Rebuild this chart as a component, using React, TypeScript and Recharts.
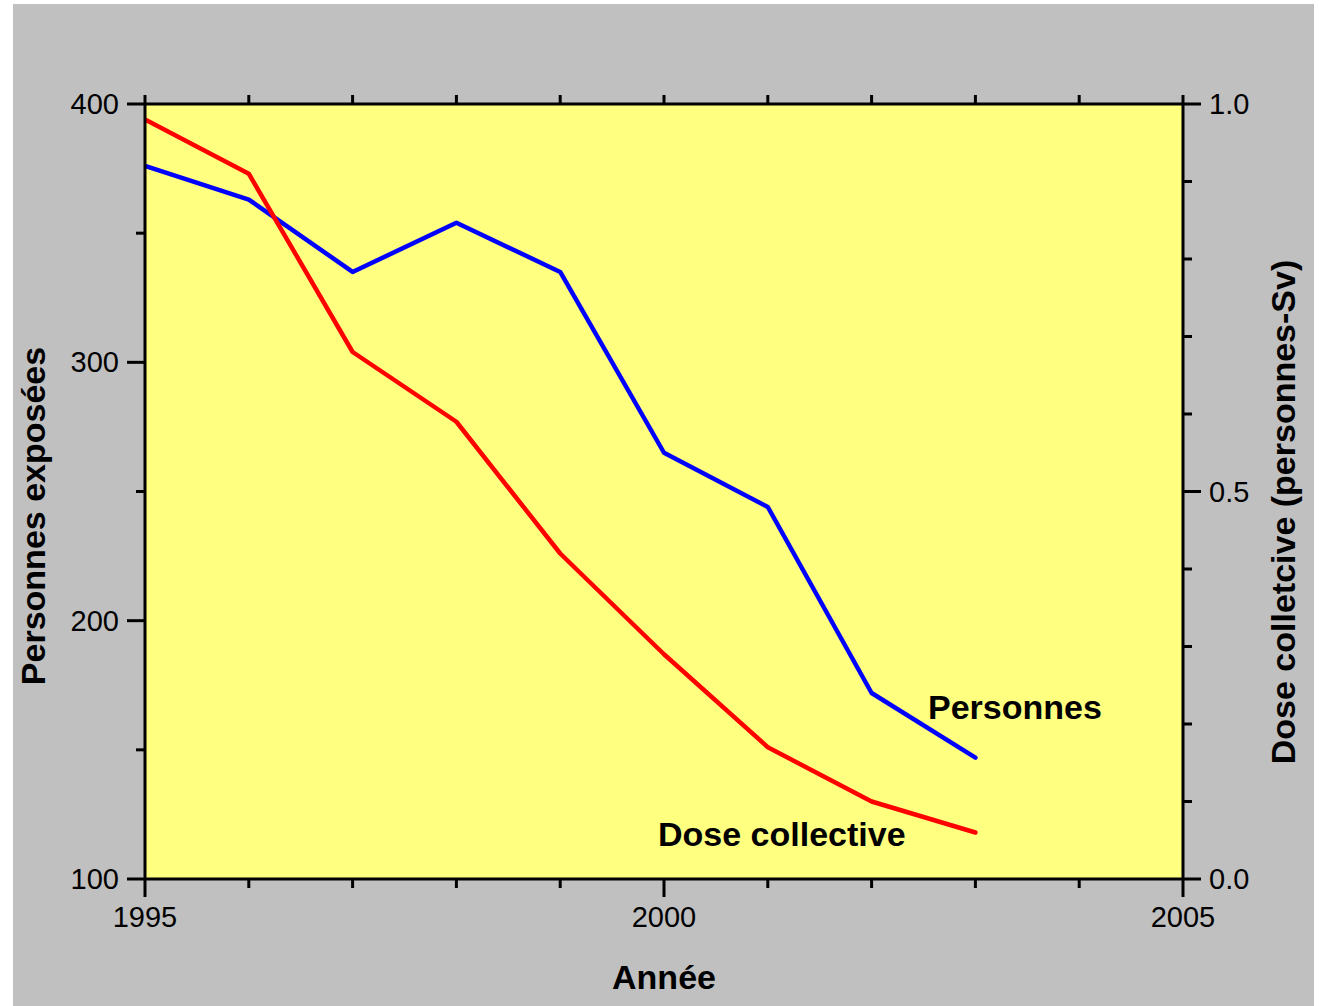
import React from 'react';
import { LineChart, Line, XAxis, YAxis, CartesianGrid } from 'recharts';

const years = [1995, 1996, 1997, 1998, 1999, 2000, 2001, 2002, 2003];
const personnes = [376, 363, 335, 354, 335, 265, 244, 172, 147];
const dose = [0.98, 0.91, 0.68, 0.59, 0.42, 0.29, 0.17, 0.1, 0.06];

const yearTicks = [1995, 1996, 1997, 1998, 1999, 2000, 2001, 2002, 2003, 2004, 2005];
const yearLabels = [1995, 2000, 2005];
const leftTicks = [100, 150, 200, 250, 300, 350, 400];
const leftLabels = [100, 200, 300, 400];
const rightTicks = [0, 0.1, 0.2, 0.3, 0.4, 0.5, 0.6, 0.7, 0.8, 0.9, 1.0];
const rightLabels = [0, 0.5, 1.0];

const data = years.map((year, i) => ({ year, personnes: personnes[i], dose: dose[i] }));

const FONT = '"Liberation Sans", Arial, sans-serif';
const tickText = { fontFamily: FONT, fontSize: 29, fill: '#000' };

const LeftTick = (props: any) => {
  const { x, y, payload } = props;
  const major = leftLabels.includes(payload.value);
  return (
    <g>
      <line x1={x} x2={x - (major ? 18 : 9)} y1={y} y2={y} stroke="#000" strokeWidth={3} />
      {major && (
        <text x={x - 26} y={y} textAnchor="end" dominantBaseline="central" {...tickText}>
          {payload.value}
        </text>
      )}
    </g>
  );
};

const RightTick = (props: any) => {
  const { x, y, payload } = props;
  const major = rightLabels.some((v) => Math.abs(v - payload.value) < 1e-6);
  return (
    <g>
      <line x1={x} x2={x + (major ? 18 : 9)} y1={y} y2={y} stroke="#000" strokeWidth={3} />
      {major && (
        <text x={x + 26} y={y} textAnchor="start" dominantBaseline="central" {...tickText}>
          {payload.value.toFixed(1)}
        </text>
      )}
    </g>
  );
};

const BottomTick = (props: any) => {
  const { x, y, payload } = props;
  const major = yearLabels.includes(payload.value);
  return (
    <g>
      <line x1={x} x2={x} y1={y} y2={y + (major ? 18 : 9)} stroke="#000" strokeWidth={3} />
      {major && (
        <text x={x} y={y + 38} textAnchor="middle" dominantBaseline="central" {...tickText}>
          {payload.value}
        </text>
      )}
    </g>
  );
};

const TopTick = (props: any) => {
  const { x, y } = props;
  return <line x1={x} x2={x} y1={y} y2={y - 9} stroke="#000" strokeWidth={3} />;
};

const title: React.CSSProperties = {
  position: 'absolute',
  fontFamily: FONT,
  fontWeight: 'bold',
  fontSize: 34,
  color: '#000',
  whiteSpace: 'nowrap',
  lineHeight: 1,
};

export default function App() {
  return (
    <div style={{ position: 'absolute', left: 13, top: 4, width: 1301, height: 1002, background: '#c0c0c0' }}>
      <LineChart width={1301} height={1002} data={data} margin={{ top: 99, right: 0, left: 0, bottom: 0 }}>
        <CartesianGrid fill="#ffff80" horizontal={false} vertical={false} stroke="none" />
        <XAxis
          xAxisId="bottom"
          dataKey="year"
          type="number"
          domain={[1995, 2005]}
          ticks={yearTicks}
          interval={0}
          height={127}
          tickSize={0}
          tickMargin={0}
          tickLine={false}
          tick={<BottomTick />}
          axisLine={{ stroke: '#000', strokeWidth: 3 }}
          allowDataOverflow
        />
        <XAxis
          xAxisId="top"
          orientation="top"
          dataKey="year"
          type="number"
          domain={[1995, 2005]}
          ticks={yearTicks}
          interval={0}
          height={1}
          tickSize={0}
          tickMargin={0}
          tickLine={false}
          tick={<TopTick />}
          axisLine={{ stroke: '#000', strokeWidth: 3 }}
          allowDataOverflow
        />
        <YAxis
          yAxisId="left"
          domain={[100, 400]}
          ticks={leftTicks}
          interval={0}
          width={132}
          tickSize={0}
          tickMargin={0}
          tickLine={false}
          tick={<LeftTick />}
          axisLine={{ stroke: '#000', strokeWidth: 3 }}
          allowDataOverflow
        />
        <YAxis
          yAxisId="right"
          orientation="right"
          domain={[0, 1]}
          ticks={rightTicks}
          interval={0}
          width={131}
          tickSize={0}
          tickMargin={0}
          tickLine={false}
          tick={<RightTick />}
          axisLine={{ stroke: '#000', strokeWidth: 3 }}
          allowDataOverflow
        />
        <Line
          xAxisId="top"
          yAxisId="left"
          dataKey="personnes"
          stroke="none"
          legendType="none"
          dot={false}
          activeDot={false}
          isAnimationActive={false}
        />
        <Line
          xAxisId="bottom"
          yAxisId="left"
          dataKey="personnes"
          stroke="#0000ff"
          strokeWidth={4.5}
          strokeLinecap="round"
          strokeLinejoin="round"
          dot={false}
          isAnimationActive={false}
        />
        <Line
          xAxisId="bottom"
          yAxisId="right"
          dataKey="dose"
          stroke="#ff0000"
          strokeWidth={4.5}
          strokeLinecap="round"
          strokeLinejoin="round"
          dot={false}
          isAnimationActive={false}
        />
      </LineChart>
      <div style={{ ...title, left: 20, top: 512, transform: 'translate(-50%, -50%) rotate(-90deg)' }}>
        Personnes exposées
      </div>
      <div style={{ ...title, left: 1270, top: 508, transform: 'translate(-50%, -50%) rotate(-90deg)' }}>
        Dose colletcive (personnes-Sv)
      </div>
      <div style={{ ...title, left: 651, top: 973, transform: 'translate(-50%, -50%)' }}>Année</div>
      <div style={{ ...title, left: 915, top: 703, transform: 'translate(0, -50%)' }}>Personnes</div>
      <div style={{ ...title, left: 645, top: 830, transform: 'translate(0, -50%)' }}>Dose collective</div>
    </div>
  );
}
